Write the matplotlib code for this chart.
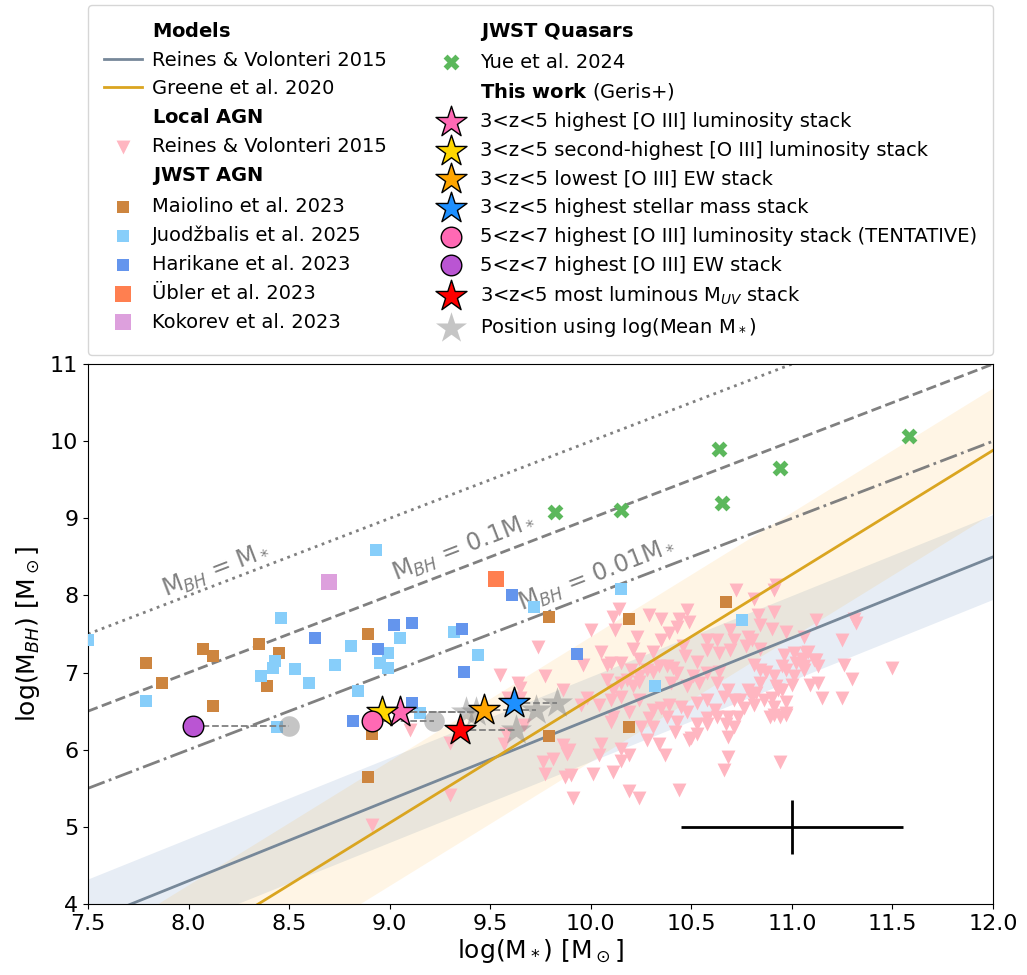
import numpy as np
import matplotlib.pyplot as plt
from matplotlib.lines import Line2D

# ---- local AGN, Reines & Volonteri 2015: (log M*, log M_BH) ----
rv15_local = [
    (9.74, 7.33), (9.55, 6.97), (9.77, 6.95), (9.64, 6.87), (9.65, 6.80),
    (9.10, 6.26), (9.30, 6.09), (9.57, 6.08), (9.67, 6.32), (9.76, 5.84),
    (9.81, 5.88), (9.77, 5.69), (9.30, 5.41), (8.91, 5.02), (9.59, 6.67),
    (9.65, 6.67), (9.58, 6.21), (9.86, 6.77), (9.86, 6.06), (9.88, 5.95),
    (9.87, 5.65),
    (10.14, 7.83), (10.11, 7.72), (10.00, 7.55), (10.12, 7.55), (10.23, 7.46),
    (10.29, 7.75), (10.35, 7.70), (10.44, 7.70), (10.48, 7.81), (10.49, 7.66),
    (10.43, 7.59), (10.39, 7.51), (10.35, 7.42), (10.31, 7.27), (10.21, 7.31),
    (10.05, 7.27), (9.96, 7.10), (10.10, 7.12), (10.15, 7.12), (10.24, 7.18),
    (10.46, 7.34), (10.47, 7.21), (10.53, 7.14), (10.58, 7.42), (10.63, 7.42),
    (10.64, 7.25), (10.69, 7.29), (10.71, 7.42), (10.72, 8.07), (10.69, 7.55),
    (10.58, 6.99), (10.64, 7.01), (10.51, 6.95), (10.43, 6.99), (10.38, 7.08),
    (10.31, 7.01), (10.24, 6.95), (10.20, 7.03), (10.21, 6.82), (10.15, 6.86),
    (10.08, 6.90), (10.11, 6.77), (10.40, 6.86), (10.48, 6.82), (10.54, 6.86),
    (10.63, 6.86), (10.68, 6.77), (9.98, 6.67), (10.58, 7.29), (10.66, 6.69),
    (10.68, 6.43), (10.63, 6.43), (10.58, 6.34), (10.71, 6.30), (10.68, 6.17),
    (10.53, 6.21), (10.49, 6.13), (10.68, 5.91), (10.66, 5.74), (10.44, 5.48),
    (10.24, 5.37), (10.19, 5.46), (9.91, 5.37), (9.90, 5.67), (10.01, 5.69),
    (10.11, 5.71), (10.05, 6.08), (9.89, 6.00), (10.04, 5.93), (10.15, 6.01),
    (10.15, 5.86), (10.19, 5.93), (10.28, 6.13), (10.34, 6.08), (10.37, 5.93),
    (10.42, 6.23), (10.43, 6.36), (10.50, 6.15), (10.53, 6.34), (10.58, 6.41),
    (10.67, 6.34), (10.73, 6.43), (10.11, 6.43), (10.10, 6.36), (10.04, 6.58),
    (10.10, 6.64), (10.19, 6.49), (10.25, 6.30), (10.29, 6.41), (10.31, 6.30),
    (10.35, 6.54), (10.39, 6.58), (10.45, 6.56), (10.48, 6.49), (10.53, 6.60),
    (10.58, 6.64), (10.62, 6.51), (10.71, 6.64), (9.95, 6.58), (10.08, 7.10),
    (10.18, 6.90), (10.24, 6.88), (10.28, 7.03), (10.34, 7.08), (10.41, 7.06),
    (10.15, 6.69), (10.24, 6.64), (10.31, 6.51), (10.38, 6.43), (10.74, 6.64),
    (10.92, 8.13), (10.91, 8.07), (10.81, 7.96), (10.91, 7.79), (10.83, 7.75),
    (10.84, 7.62), (10.90, 7.57), (10.97, 7.53), (11.12, 7.68), (11.06, 7.46),
    (11.31, 7.70), (11.32, 7.64), (11.25, 7.42), (10.78, 7.46), (10.80, 7.42),
    (10.77, 7.34), (10.96, 7.23), (11.01, 7.25), (11.07, 7.25), (11.12, 7.16),
    (11.02, 7.12), (11.06, 7.08), (10.95, 7.08), (11.13, 7.08), (10.81, 7.10),
    (10.84, 7.03), (10.87, 7.01), (10.91, 6.95), (11.26, 7.10), (11.30, 6.92),
    (11.50, 7.06), (11.00, 6.84), (11.09, 6.84), (11.13, 6.86), (10.92, 6.82),
    (10.93, 6.77), (10.82, 6.73), (10.78, 6.77), (11.15, 6.67), (11.25, 6.67),
    (10.90, 6.67), (10.97, 6.62), (10.81, 6.58), (10.76, 6.54), (10.91, 6.45),
    (10.97, 6.45), (10.84, 7.31), (10.97, 7.03), (11.01, 6.95), (10.84, 6.86),
    (10.80, 6.69), (10.86, 6.64), (10.91, 6.56), (10.94, 6.43), (10.89, 6.43),
    (10.94, 5.84), (10.97, 6.47), (11.05, 7.18), (11.08, 7.27), (11.11, 7.16),
    (11.06, 7.03), (10.95, 6.77),
]

# ---- JWST AGN ----
maiolino_mstar = [7.79, 7.87, 8.07, 8.12, 8.12, 8.35, 8.39, 8.45, 8.89, 8.91,
                  8.89, 9.79, 9.79, 10.19, 10.19, 10.67]
maiolino_mbh = [7.13, 6.86, 7.30, 7.22, 6.57, 7.37, 6.83, 7.25, 7.50, 6.20,
                5.65, 7.72, 6.18, 7.69, 6.30, 7.91]

juod_mstar = [7.50, 7.79, 8.46, 8.36, 8.42, 8.43, 8.53, 8.60, 8.73, 8.81, 8.84,
              8.95, 8.99, 8.99, 9.05, 8.44, 8.93, 9.32, 9.44, 9.72, 10.15, 9.15,
              10.32, 10.75]
juod_mbh = [7.42, 6.63, 7.71, 6.96, 7.06, 7.15, 7.05, 6.86, 7.10, 7.34, 6.76,
            7.13, 7.25, 7.06, 7.45, 6.29, 8.59, 7.52, 7.23, 7.85, 8.08, 6.48,
            6.82, 7.68]

harikane_mstar = [8.63, 8.94, 9.02, 9.11, 9.11, 8.82, 9.36, 9.37, 9.61, 9.93]
harikane_mbh = [7.45, 7.30, 7.62, 7.64, 6.61, 6.37, 7.57, 7.01, 8.00, 7.24]

ubler_mstar, ubler_mbh = [9.53], [8.21]
kokorev_mstar, kokorev_mbh = [8.70], [8.18]

# ---- JWST quasars, Yue et al. 2024 ----
yue_mstar = [9.82, 10.15, 10.64, 10.65, 10.94, 11.58]
yue_mbh = [9.08, 9.11, 9.90, 9.20, 9.65, 10.07]

# ---- this work: stacks (log M*, log M_BH), and log(mean M*) positions ----
stack_labels = ['3<z<5 highest [O III] luminosity stack',
                '3<z<5 second-highest [O III] luminosity stack',
                '3<z<5 lowest [O III] EW stack',
                '3<z<5 highest stellar mass stack',
                '5<z<7 highest [O III] luminosity stack (TENTATIVE)',
                '5<z<7 highest [O III] EW stack',
                '3<z<5 most luminous M$_{UV}$ stack']
stack_mstar = [9.05, 8.96, 9.47, 9.62, 8.91, 8.02, 9.35]
stack_mbh = [6.49, 6.49, 6.51, 6.60, 6.37, 6.31, 6.26]
stack_mean_mstar = [9.43, 9.38, 9.73, 9.83, 9.22, 8.50, 9.63]
stack_colors = ['hotpink', 'gold', 'orange', 'dodgerblue', 'hotpink',
                'mediumorchid', 'red']
stack_markers = ['*', '*', '*', '*', 'o', 'o', '*']

# ---- scaling relations ----
rv15_norm, rv15_slope, rv15_scatter = 7.45, 1.05, 0.55
gr20_norm, gr20_slope, gr20_scatter = 7.43, 1.61, 0.81

# typical uncertainty
err_x, err_y, err_dx, err_dy = 11.0, 5.0, 0.55, 0.35

fig = plt.figure(figsize=(10.27, 9.75), dpi=100)
ax = fig.add_axes([0.0857, 0.0728, 0.8812, 0.5538])

xx = np.linspace(7.5, 12.0, 200)
rv15_line = rv15_norm + rv15_slope * (xx - 11.0)
gr20_line = gr20_norm + gr20_slope * (xx - np.log10(3e10))
ax.fill_between(xx, rv15_line - rv15_scatter, rv15_line + rv15_scatter,
                color='lightsteelblue', alpha=0.3, lw=0, zorder=0)
ax.fill_between(xx, gr20_line - gr20_scatter, gr20_line + gr20_scatter,
                color='orange', alpha=0.1, lw=0, zorder=0)

# constant mass ratio lines
ax.plot(xx, xx, ':', color='grey', lw=2, zorder=1)
ax.plot(xx, xx - 1, '--', color='grey', lw=2, zorder=1)
ax.plot(xx, xx - 2, '-.', color='grey', lw=2, zorder=1)
ax.text(8.14, 8.33, r'M$_{BH}$ = M$_*$', color='grey', fontsize=17,
        rotation=21, ha='center', va='center')
ax.text(9.37, 8.62, r'M$_{BH}$ = 0.1M$_*$', color='grey', fontsize=17,
        rotation=21, ha='center', va='center')
ax.text(10.03, 8.27, r'M$_{BH}$ = 0.01M$_*$', color='grey', fontsize=17,
        rotation=21, ha='center', va='center')

rv_ln, = ax.plot(xx, rv15_line, color='lightslategray', lw=2, zorder=2.5)
gr_ln, = ax.plot(xx, gr20_line, color='goldenrod', lw=2, zorder=2.5)

loc_x, loc_y = np.array(rv15_local).T
tri = ax.scatter(loc_x, loc_y, marker='v', s=100, color='lightpink', lw=0, zorder=2)

mai = ax.scatter(maiolino_mstar, maiolino_mbh, marker='s', s=65, color='peru', lw=0, zorder=3)
juo = ax.scatter(juod_mstar, juod_mbh, marker='s', s=65, color='lightskyblue', lw=0, zorder=3)
har = ax.scatter(harikane_mstar, harikane_mbh, marker='s', s=65, color='cornflowerblue', lw=0, zorder=3)
ubl = ax.scatter(ubler_mstar, ubler_mbh, marker='s', s=120, color='coral', lw=0, zorder=3)
kok = ax.scatter(kokorev_mstar, kokorev_mbh, marker='s', s=120, color='plum', lw=0, zorder=3)
yue = ax.scatter(yue_mstar, yue_mbh, marker='X', s=130, color='#5cb85c', lw=0, zorder=3)

stack_handles = []
for mx, mb, mm, c, m in zip(stack_mstar, stack_mbh, stack_mean_mstar,
                            stack_colors, stack_markers):
    size = 550 if m == '*' else 220
    ax.scatter(mm, mb, marker=m, s=size, color='grey', alpha=0.45, lw=0, zorder=4)
    ax.plot([mx, mm], [mb, mb], '--', color='grey', lw=1.3, zorder=5)
    h = ax.scatter(mx, mb, marker=m, s=size, color=c, edgecolor='k', lw=1, zorder=6)
    stack_handles.append(h)
grey_h = ax.scatter([], [], marker='*', s=550, color='grey', alpha=0.45, lw=0)

ax.errorbar(err_x, err_y, xerr=err_dx, yerr=err_dy, color='k', lw=2, capsize=0)

ax.set_xlim(7.5, 12.0)
ax.set_ylim(4, 11)
ax.set_xticks(np.arange(7.5, 12.01, 0.5))
ax.set_xticklabels(['%.1f' % t for t in np.arange(7.5, 12.01, 0.5)])
ax.tick_params(labelsize=16)
ax.set_xlabel(r'log(M$_*$) [M$_\odot$]', fontsize=18, labelpad=2)
ax.set_ylabel(r'log(M$_{BH}$) [M$_\odot$]', fontsize=18, labelpad=6)

blank = Line2D([], [], color='none')
handles = [blank, rv_ln, gr_ln, blank, tri, blank, mai, juo, har, ubl, kok,
           blank, yue, blank] + stack_handles + [grey_h]
labels = [r'$\bf{Models}$', 'Reines & Volonteri 2015', 'Greene et al. 2020',
          r'$\bf{Local\ AGN}$', 'Reines & Volonteri 2015', r'$\bf{JWST\ AGN}$',
          'Maiolino et al. 2023', 'Juodžbalis et al. 2025', 'Harikane et al. 2023',
          'Übler et al. 2023', 'Kokorev et al. 2023',
          r'$\bf{JWST\ Quasars}$', 'Yue et al. 2024', r'$\bf{This\ work}$ (Geris+)'] \
    + stack_labels + [r'Position using log(Mean M$_*$)']
ax.legend(handles, labels, loc='lower left', bbox_to_anchor=(0, 1.017, 1, 0.2),
          mode='expand', ncol=2, fontsize=14, labelspacing=0.5,
          handletextpad=0.5, borderaxespad=0, borderpad=0.8)

fig.savefig('out.png', dpi=100)
